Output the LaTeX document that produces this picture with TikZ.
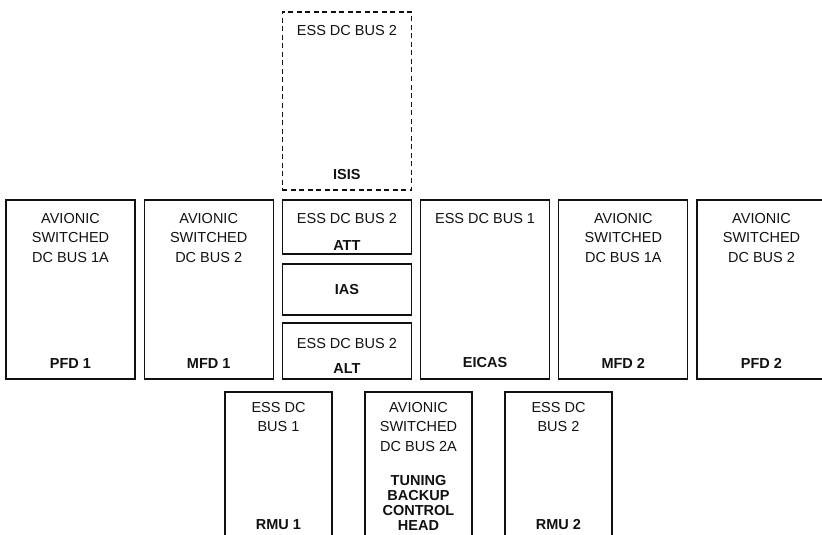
\documentclass[tikz,border=0pt]{standalone}
\usepackage{fontspec}
\setmainfont{Liberation Sans}
\usetikzlibrary{positioning}
\definecolor{ink}{HTML}{111111}
\tikzset{unitbox/.style={draw=ink,line width=1.3pt,minimum width=129pt,minimum height=179pt,
 inner sep=0pt,outer sep=0pt},
 bustext/.style={inner sep=0pt,outer sep=0pt,align=center,text=ink,font=\fontsize{14.5}{19.5}\selectfont},
 unittext/.style={bustext,font=\fontsize{14.5}{15}\selectfont\bfseries}}

\begin{document}
\begin{tikzpicture}[x=1pt,y=-1pt,s/.style={unitbox,minimum width=107pt,minimum height=155pt}]
\useasboundingbox (0,0) rectangle (822,535);
\clip (0,0) rectangle (822,535);
% standby instruments
\node[unitbox,dashed,dash pattern=on 5pt off 3.5pt,minimum height=178pt] (isis) at (346.9,101) {};
\node[bustext,below=13pt of isis.north] (isisbus) {ESS DC BUS 2};
\node[unittext,above=10pt of isis.south] (isisname) {ISIS};
% display row
\node[unitbox] (pfda) at (70.5,289.5) {};
\node[bustext,below=13pt of pfda.north] (pfdabus) {AVIONIC\\SWITCHED\\DC BUS 1A};
\node[unittext,above=11pt of pfda.south] (pfdaname) {PFD 1};
\node[unitbox] (mfda) at (208.7,289.5) {};
\node[bustext,below=13pt of mfda.north] (mfdabus) {AVIONIC\\SWITCHED\\DC BUS 2};
\node[unittext,above=11pt of mfda.south] (mfdaname) {MFD 1};
\node[unitbox,minimum height=54pt] (att) at (346.9,227) {};
\node[bustext,below=13pt of att.north] (attbus) {ESS DC BUS 2};
\node[unittext,above=4pt of att.south] (attname) {ATT};
\node[unitbox,minimum height=51pt] (ias) at (346.9,289.5) {};
\node[unittext] (iasname) at (ias) {IAS};
\node[unitbox,minimum height=56pt] (alt) at (346.9,351) {};
\node[bustext,below=15pt of alt.north] (altbus) {ESS DC BUS 2};
\node[unittext,above=6pt of alt.south] (altname) {ALT};
\node[unitbox] (eicas) at (485.1,289.5) {};
\node[bustext,below=13pt of eicas.north] (eicasbus) {ESS DC BUS 1};
\node[unittext,above=11pt of eicas.south] (eicasname) {EICAS};
\node[unitbox] (mfdb) at (623.3,289.5) {};
\node[bustext,below=13pt of mfdb.north] (mfdbbus) {AVIONIC\\SWITCHED\\DC BUS 1A};
\node[unittext,above=11pt of mfdb.south] (mfdbname) {MFD 2};
\node[unitbox] (pfdb) at (761.5,289.5) {};
\node[bustext,below=13pt of pfdb.north] (pfdbbus) {AVIONIC\\SWITCHED\\DC BUS 2};
\node[unittext,above=11pt of pfdb.south] (pfdbname) {PFD 2};
% radio row
\node[s] (rmua) at (278.5,469.5) {};
\node[bustext,below=10pt of rmua.north] (rmuabus) {ESS DC\\BUS 1};
\node[unittext,above=17pt of rmua.south] (rmuaname) {RMU 1};
\node[s] (tbch) at (418.5,469.5) {};
\node[bustext,below=10pt of tbch.north] (tbchbus) {AVIONIC\\SWITCHED\\DC BUS 2A};
\node[unittext,above=17pt of tbch.south] (tbchname) {TUNING\\BACKUP\\CONTROL\\HEAD};
\node[s] (rmub) at (558.5,469.5) {};
\node[bustext,below=10pt of rmub.north] (rmubbus) {ESS DC\\BUS 2};
\node[unittext,above=17pt of rmub.south] (rmubname) {RMU 2};
\end{tikzpicture}
\end{document}
